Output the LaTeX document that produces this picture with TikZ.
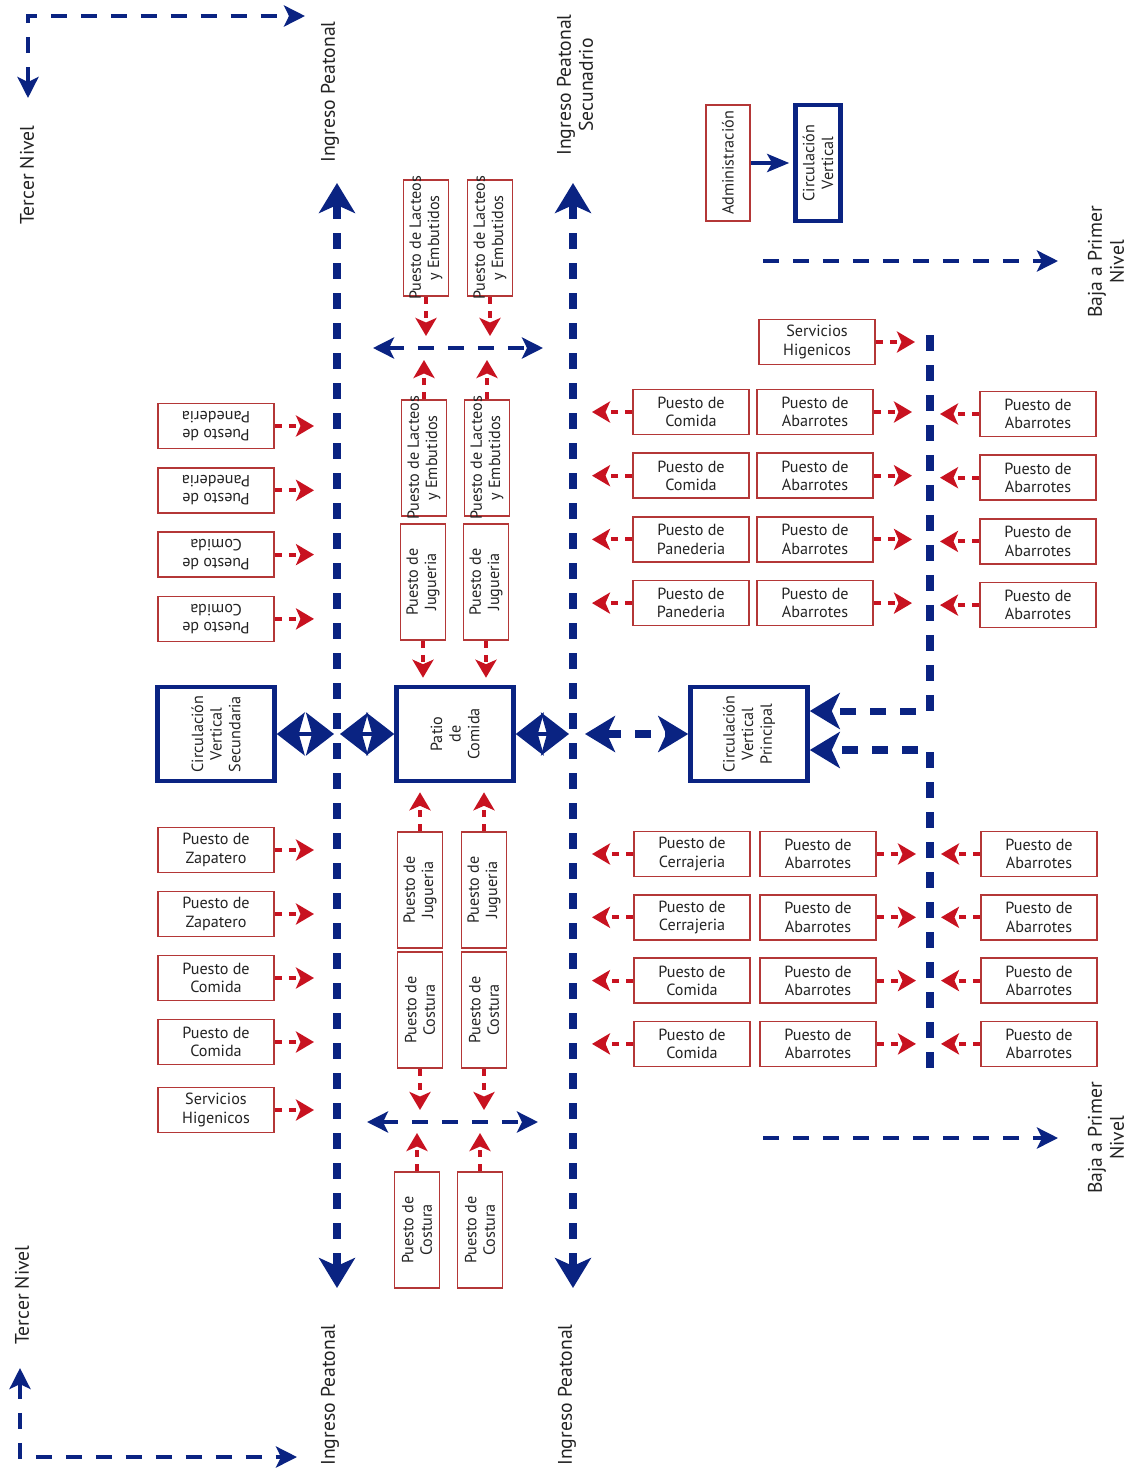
\documentclass[tikz,border=0pt]{standalone}
\usepackage{fontspec}
\setmainfont{PT Sans}
\usetikzlibrary{arrows.meta}
\definecolor{navy}{RGB}{10,35,130}
\definecolor{rojo}{RGB}{200,18,32}
\definecolor{borde}{RGB}{180,55,55}
\definecolor{texto}{RGB}{35,35,35}
\begin{document}
\begin{tikzpicture}[x=0.02cm,y=-0.02cm,
    puesto/.style={draw=borde,line width=0.9pt,minimum width=2.32cm,minimum height=0.9cm,inner sep=1pt,align=center,text=texto,font=\fontsize{9.2}{10.4}\selectfont},
    circbox/.style={draw=navy,line width=2.6pt,inner sep=1pt,align=center,text=texto,font=\fontsize{9.2}{10.6}\selectfont,rotate=90},
    etiqueta/.style={text=texto,align=center,rotate=90,font=\fontsize{11.2}{12.5}\selectfont},
    via/.style={navy,line width=4pt,dash pattern=on 0.32cm off 0.28cm},
    fina/.tip={Stealth[length=0.42cm,width=0.42cm,inset=0.1cm]},
    ruta/.style={navy,line width=2.4pt,dash pattern=on 0.32cm off 0.28cm,-fina},
    flecha/.style={rojo,line width=2.2pt,dash pattern=on 0.15cm off 0.13cm,-{Stealth[length=0.36cm,width=0.42cm,inset=0.09cm]}},
    punta/.tip={Stealth[length=0.6cm,width=0.72cm,inset=0.16cm]},
    doble/.style={navy,line width=2pt,{Stealth[length=0.56cm,width=0.86cm,inset=0.12cm]}-{Stealth[length=0.56cm,width=0.86cm,inset=0.12cm]}}]
\useasboundingbox (0,0) rectangle (1133,1474);

\coordinate (ltop) at (337,183);
\coordinate (lbot) at (337,1288);
\coordinate (ctop) at (573,183);
\coordinate (cbot) at (573,1288);
\coordinate (rtop) at (930,335);
\coordinate (rbot) at (930,1068);
\draw[via,punta-punta] (ltop) -- (lbot);
\draw[via,punta-punta] (ctop) -- (cbot);

\node[etiqueta] (tercer1) at (27,175) {Tercer Nivel};
\node[etiqueta] (tercer2) at (22,1295) {Tercer Nivel};
\node[etiqueta] (ingreso1) at (330,92) {Ingreso Peatonal};
\node[etiqueta] (ingreso2) at (575,85) {Ingreso Peatonal\\Secunadrio};
\node[etiqueta] (ingreso3) at (330,1395) {Ingreso Peatonal};
\node[etiqueta] (ingreso4) at (567,1395) {Ingreso Peatonal};
\node[etiqueta] (baja1) at (1106,262) {Baja a Primer\\Nivel};
\node[etiqueta] (baja2) at (1106,1138) {Baja a Primer\\Nivel};

\coordinate (esq1a) at (28,98);
\coordinate (esq1b) at (305,16);
\coordinate (esq2a) at (20,1368);
\coordinate (esq2b) at (297,1457);
\draw[ruta,fina-fina] (esq1a) |- (esq1b);
\draw[ruta,fina-fina] (esq2a) |- (esq2b);
\coordinate (baja1a) at (763,261);
\coordinate (baja1b) at (1058,261);
\coordinate (baja2a) at (763,1138);
\coordinate (baja2b) at (1058,1138);
\draw[ruta] (baja1a) -- (baja1b);
\draw[ruta] (baja2a) -- (baja2b);

\node[puesto,rotate=90,minimum height=0.88cm] (admin) at (728,163) {Administración};
\node[circbox,minimum width=2.32cm,minimum height=0.9cm] (cvsup) at (818,163) {Circulación\\Vertical};
\draw[navy,line width=2.4pt,-{Stealth[length=0.44cm,width=0.36cm,inset=0.1cm]},shorten >=0.08cm] (admin.south) -- (cvsup.north);

\node[circbox,minimum width=1.88cm,minimum height=2.34cm] (cvsec) at (216,734) {Circulación\\Vertical\\Secundaria};
\node[circbox,minimum width=1.88cm,minimum height=2.34cm] (patio) at (455,734) {Patio\\de\\Comida};
\node[circbox,minimum width=1.88cm,minimum height=2.34cm] (cvp) at (749,734) {Circulación\\Vertical\\Principal};
\draw[doble,shorten >=0.06cm] (cvsec.south) -- (cvsec.south -| ltop);
\draw[doble,shorten <=0.06cm] (ltop |- patio.north) -- (patio.north);
\draw[doble,shorten >=0.08cm] (patio.south) -- (patio.south -| ctop);
\draw[via,punta-punta,shorten <=0.24cm] (ctop |- cvp.north) -- (cvp.north);
\draw[via,-punta] (rtop) |- ([yshift=0.46cm]cvp.south);
\draw[via,-punta] (rbot) |- ([yshift=-0.32cm]cvp.south);

\foreach \tipo [count=\i] in {Panederia,Panederia,Comida,Comida} {
    \node[puesto,rotate=180] (izq\i) at (216,{426+64.3*(\i-1)}) {Puesto de\\\tipo};
    \draw[flecha,shorten >=0.46cm] (izq\i.west) -- (izq\i.west -| ltop);
}
\foreach \tipo [count=\i] in {Zapatero,Zapatero,Comida,Comida} {
    \node[puesto] (izqb\i) at (216,{850+64*(\i-1)}) {Puesto de\\\tipo};
    \draw[flecha,shorten >=0.46cm] (izqb\i.east) -- (izqb\i.east -| ltop);
}
\node[puesto] (sshh1) at (216,1110) {Servicios\\Higenicos};
\draw[flecha,shorten >=0.46cm] (sshh1.east) -- (sshh1.east -| ltop);

\node[puesto] (sshh2) at (817,342) {Servicios\\Higenicos};
\draw[flecha,shorten >=0.3cm] (sshh2.east) -- (sshh2.east -| rtop);
\foreach \tipo [count=\i] in {Comida,Comida,Panederia,Panederia} {
    \node[puesto] (dera\i) at (691,{412+63.7*(\i-1)}) {Puesto de\\\tipo};
    \node[puesto] (derb\i) at (815,{412+63.7*(\i-1)}) {Puesto de\\Abarrotes};
    \node[puesto] (derc\i) at (1038,{414+63.7*(\i-1)}) {Puesto de\\Abarrotes};
    \draw[flecha,shorten >=0.38cm] (dera\i.west) -- (dera\i.west -| ctop);
    \draw[flecha,shorten >=0.36cm] (derb\i.east) -- (derb\i.east -| rtop);
    \draw[flecha,shorten >=0.2cm] (derc\i.west) -- (derc\i.west -| rtop);
}
\foreach \tipo [count=\i] in {Cerrajeria,Cerrajeria,Comida,Comida} {
    \node[puesto] (derd\i) at (692,{854+63.3*(\i-1)}) {Puesto de\\\tipo};
    \node[puesto] (dere\i) at (818,{854+63.3*(\i-1)}) {Puesto de\\Abarrotes};
    \node[puesto] (derf\i) at (1039,{854+63.3*(\i-1)}) {Puesto de\\Abarrotes};
    \draw[flecha,shorten >=0.38cm] (derd\i.west) -- (derd\i.west -| ctop);
    \draw[flecha,shorten >=0.28cm] (dere\i.east) -- (dere\i.east -| rtop);
    \draw[flecha,shorten >=0.22cm] (derf\i.west) -- (derf\i.west -| rtop);
}

\coordinate (cruce1a) at (373,348);
\coordinate (cruce1b) at (543,348);
\coordinate (cruce2a) at (367,1122);
\coordinate (cruce2b) at (538,1122);
\draw[ruta,fina-fina] (cruce1a) -- (cruce1b);
\draw[ruta,fina-fina] (cruce2a) -- (cruce2b);

\node[puesto,rotate=90] (lac1) at (426,238) {\makebox[2.2cm]{Puesto de Lacteos}\\y Embutidos};
\node[puesto,rotate=90] (lac2) at (490,238) {\makebox[2.2cm]{Puesto de Lacteos}\\y Embutidos};
\node[puesto,rotate=90] (lac3) at (424,458) {\makebox[2.2cm]{Puesto de Lacteos}\\y Embutidos};
\node[puesto,rotate=90] (lac4) at (487,458) {\makebox[2.2cm]{Puesto de Lacteos}\\y Embutidos};
\node[puesto,rotate=90] (jug1) at (423,582) {Puesto de\\Jugueria};
\node[puesto,rotate=90] (jug2) at (486,582) {Puesto de\\Jugueria};
\node[puesto,rotate=90] (jug3) at (420,890) {Puesto de\\Jugueria};
\node[puesto,rotate=90] (jug4) at (484,890) {Puesto de\\Jugueria};
\node[puesto,rotate=90] (cos1) at (420,1010) {Puesto de\\Costura};
\node[puesto,rotate=90] (cos2) at (484,1010) {Puesto de\\Costura};
\node[puesto,rotate=90] (cos3) at (417,1230) {Puesto de\\Costura};
\node[puesto,rotate=90] (cos4) at (480,1230) {Puesto de\\Costura};
\foreach \n in {1,2} {
    \draw[flecha,shorten >=0.24cm] (lac\n.west) -- (lac\n.west |- cruce1a);
    \draw[flecha,shorten >=0.24cm] (cos\n.west) -- (cos\n.west |- cruce2a);
    \draw[flecha,shorten >=0.14cm] (jug\n.west) -- (jug\n.west |- patio.east);
}
\foreach \n in {3,4} {
    \draw[flecha,shorten >=0.24cm] (lac\n.east) -- (lac\n.east |- cruce1a);
    \draw[flecha,shorten >=0.22cm] (cos\n.east) -- (cos\n.east |- cruce2a);
    \draw[flecha,shorten >=0.18cm] (jug\n.east) -- (jug\n.east |- patio.west);
}
\end{tikzpicture}
\end{document}
